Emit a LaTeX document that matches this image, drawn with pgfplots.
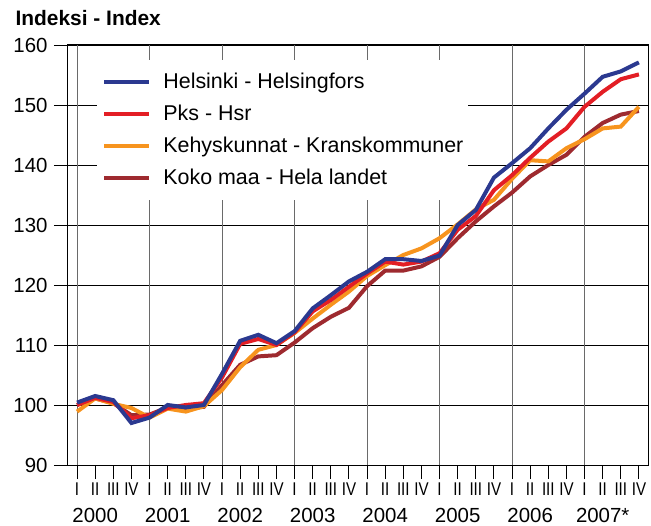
\documentclass[border=0pt]{standalone}
\usepackage{fontspec}
\setmainfont{Liberation Sans}
\newfontfamily\narrowfont[FakeStretch=0.82]{Liberation Sans}
\usepackage{pgfplots}
\usepackage{pgfplotstable}
\pgfplotsset{compat=1.18}
\definecolor{hel}{HTML}{2B3990}
\definecolor{pks}{HTML}{E31E25}
\definecolor{keh}{HTML}{F7941E}
\definecolor{koko}{HTML}{9E2A2F}
\definecolor{vgrid}{HTML}{6A6A6A}

% quarterly index, 2000 Q1 = 0 ... 2007 Q4 = 31
\pgfplotstableread{
q   hel   pks   keh   koko
0   100.4 100.0 98.9  100.0
1   101.5 101.2 101.1 101.1
2   100.8 100.5 100.2 100.3
3   97.0  97.8  99.5  98.3
4   97.9  98.3  97.9  98.4
5   100.0 99.5  99.4  99.6
6   99.6  100.0 98.9  99.4
7   100.0 100.3 99.8  99.7
8   105.2 104.6 102.5 103.3
9   110.7 110.2 106.3 106.7
10  111.7 111.0 109.2 108.1
11  110.3 110.0 110.0 108.3
12  112.3 112.1 112.0 110.4
13  116.1 115.6 114.4 112.8
14  118.3 117.5 116.7 114.7
15  120.6 119.7 118.9 116.2
16  122.2 121.9 121.5 119.8
17  124.3 123.9 123.3 122.4
18  124.3 123.4 125.0 122.4
19  124.0 123.9 126.1 123.1
20  124.9 125.3 127.8 124.7
21  130.0 129.2 130.1 127.8
22  132.5 131.5 132.6 130.6
23  137.9 135.8 134.2 133.1
24  140.3 138.3 137.7 135.4
25  142.8 141.2 140.8 138.1
26  146.1 143.9 140.6 140.0
27  149.2 146.1 142.8 141.7
28  151.9 149.7 144.3 144.7
29  154.7 152.2 146.1 147.0
30  155.6 154.3 146.4 148.4
31  157.1 155.1 149.7 149.0
}\prices

\begin{document}
\begin{tikzpicture}
\begin{axis}[
  scale only axis, width=580bp, height=420bp,
  xmin=-0.5, xmax=31.5, ymin=90, ymax=160,
  clip mode=individual,
  xtick={0,...,31},
  xticklabels={I,II,III,IV,I,II,III,IV,I,II,III,IV,I,II,III,IV,
               I,II,III,IV,I,II,III,IV,I,II,III,IV,I,II,III,IV},
  ytick={90,100,...,160},
  ymajorgrids, major grid style={black, line width=0.9bp},
  extra x ticks={0,4,...,28}, extra x tick labels={},
  extra x tick style={grid=major, major grid style={draw=vgrid, line width=1.1bp}},
  tick align=outside, tick pos=left, major tick length=14bp,
  tick style={black, line width=0.9bp},
  axis line style={black, line width=1bp},
  x tick label style={font=\narrowfont\fontsize{18.5}{20}\selectfont},
  y tick label style={font=\fontsize{20.5}{24}\selectfont, xshift=-3bp},
  /pgf/number format/assume math mode=true,
  legend cell align=left,
  legend image code/.code={\draw[#1, line width=4bp] (0bp,0bp) -- (45bp,0bp);},
  legend style={at={(axis cs:1.11,157.5)}, anchor=north west,
    draw=none, fill=white, inner xsep=5bp, inner ysep=6bp,
    font=\fontsize{21.5}{24}\selectfont,
    nodes={inner sep=0pt, text height=22.5bp, text depth=9.5bp},
    /tikz/every odd column/.append style={column sep=12bp}},
]
\addlegendimage{hel}\addlegendentry{Helsinki - Helsingfors}
\addlegendimage{pks}\addlegendentry{Pks - Hsr}
\addlegendimage{keh}\addlegendentry{Kehyskunnat - Kranskommuner}
\addlegendimage{koko}\addlegendentry{Koko maa - Hela landet}
\addplot[koko, line width=4bp, forget plot] table[x=q, y=koko] {\prices};
\addplot[keh, line width=4bp, forget plot] table[x=q, y=keh] {\prices};
\addplot[pks, line width=4bp, forget plot] table[x=q, y=pks] {\prices};
\addplot[hel, line width=4bp, forget plot] table[x=q, y=hel] {\prices};
\node[anchor=base, font=\fontsize{20.5}{24}\selectfont, yshift=-57bp] at (axis cs:1,90) {2000};
\node[anchor=base, font=\fontsize{20.5}{24}\selectfont, yshift=-57bp] at (axis cs:5,90) {2001};
\node[anchor=base, font=\fontsize{20.5}{24}\selectfont, yshift=-57bp] at (axis cs:9,90) {2002};
\node[anchor=base, font=\fontsize{20.5}{24}\selectfont, yshift=-57bp] at (axis cs:13,90) {2003};
\node[anchor=base, font=\fontsize{20.5}{24}\selectfont, yshift=-57bp] at (axis cs:17,90) {2004};
\node[anchor=base, font=\fontsize{20.5}{24}\selectfont, yshift=-57bp] at (axis cs:21,90) {2005};
\node[anchor=base, font=\fontsize{20.5}{24}\selectfont, yshift=-57bp] at (axis cs:25,90) {2006};
\node[anchor=base, font=\fontsize{20.5}{24}\selectfont, yshift=-57bp] at (axis cs:29,90) {2007*};
\end{axis}
\node[anchor=base west, font=\bfseries\fontsize{21}{24}\selectfont]
  at ([xshift=-56bp, yshift=19bp]current axis.north west) {Indeksi - Index};
\path ([xshift=-68bp, yshift=-61bp]current axis.south west)
  rectangle ([xshift=3bp, yshift=45bp]current axis.north east);
\end{tikzpicture}
\end{document}
